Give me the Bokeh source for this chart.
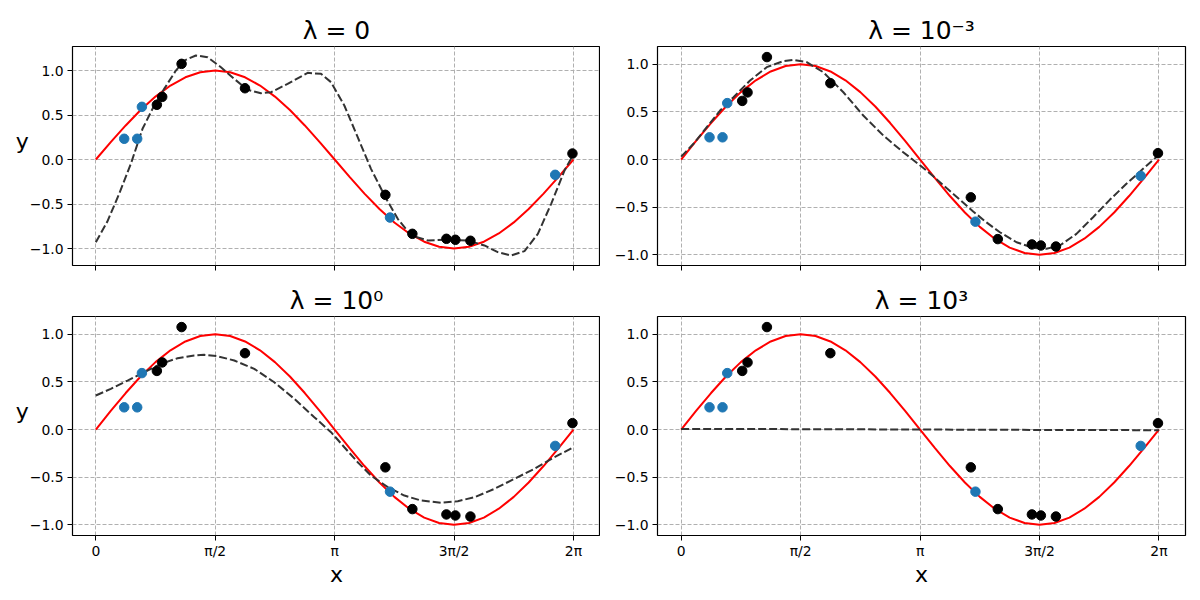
import math
from bokeh.plotting import figure
from bokeh.layouts import gridplot
from bokeh.models import FixedTicker, Range1d, CustomLabelingPolicy
from bokeh.embed import file_html
from bokeh.resources import INLINE

# ---------------- data ----------------
titles = ["λ = 0", "λ = 10⁻³", "λ = 10⁰", "λ = 10³"]

x_tick_values = [0.0, math.pi / 2, math.pi, 3 * math.pi / 2, 2 * math.pi]
x_tick_labels = ["0", "π/2", "π", "3π/2", "2π"]
y_tick_values = [-1.0, -0.5, 0.0, 0.5, 1.0]
y_tick_labels = ["−1.0", "−0.5", "0.0", "0.5", "1.0"]

train_x = [0.803, 0.873, 1.128, 1.962, 3.809, 4.164, 4.612, 4.730, 4.928, 6.270]
train_y = [0.615, 0.704, 1.075, 0.801, -0.397, -0.835, -0.891, -0.902, -0.913, 0.067]

test_x = [0.373, 0.544, 0.606, 3.870, 6.043]
test_y = [0.233, 0.233, 0.592, -0.652, -0.172]

true_x = [0.000, 0.196, 0.393, 0.589, 0.785, 0.982, 1.178, 1.374, 1.571, 1.767,
          1.963, 2.160, 2.356, 2.553, 2.749, 2.945, 3.142, 3.338, 3.534, 3.731,
          3.927, 4.123, 4.320, 4.516, 4.712, 4.909, 5.105, 5.301, 5.498, 5.694,
          5.890, 6.087, 6.283]
true_y = [0.000, 0.195, 0.383, 0.556, 0.707, 0.831, 0.924, 0.981, 1.000, 0.981,
          0.924, 0.831, 0.707, 0.556, 0.383, 0.195, 0.000, -0.195, -0.383, -0.556,
          -0.707, -0.831, -0.924, -0.981, -1.000, -0.981, -0.924, -0.831, -0.707, -0.556,
          -0.383, -0.195, 0.000]

fit0_x = [0.0, 0.15, 0.307, 0.461, 0.614, 0.768, 0.899, 1.053, 1.163, 1.316, 1.47,
          1.646, 1.821, 1.997, 2.172, 2.304, 2.523, 2.787, 2.962, 3.094, 3.269,
          3.445, 3.620, 3.809, 3.972, 4.147, 4.367, 4.585, 4.893, 5.112, 5.288,
          5.464, 5.639, 5.815, 5.990, 6.165, 6.283]
fit0_y = [-0.929, -0.70, -0.386, -0.048, 0.345, 0.607, 0.794, 1.0, 1.112, 1.169, 1.15,
          1.037, 0.906, 0.783, 0.745, 0.756, 0.850, 0.974, 0.963, 0.869, 0.607,
          0.251, -0.105, -0.423, -0.667, -0.854, -0.910, -0.902, -0.91, -0.966, -1.041,
          -1.079, -1.030, -0.835, -0.498, -0.124, 0.06]

fit3_x = [0.0, 0.162, 0.337, 0.512, 0.688, 0.906, 1.125, 1.344, 1.476, 1.651, 1.870,
          2.133, 2.395, 2.658, 2.920, 3.140, 3.315, 3.490, 3.665, 3.840, 4.015,
          4.191, 4.410, 4.629, 4.804, 4.979, 5.198, 5.417, 5.636, 5.855, 6.074, 6.283]
fit3_y = [0.03, 0.165, 0.339, 0.514, 0.654, 0.829, 0.969, 1.032, 1.046, 1.021, 0.916,
          0.706, 0.462, 0.252, 0.077, -0.06, -0.175, -0.30, -0.42, -0.545, -0.66,
          -0.763, -0.868, -0.927, -0.937, -0.902, -0.780, -0.605, -0.423, -0.255, -0.098, 0.05]

fit1_x = [0.0, 0.197, 0.417, 0.636, 0.856, 1.075, 1.294, 1.426, 1.602, 1.821, 2.084,
          2.347, 2.611, 2.874, 3.094, 3.269, 3.445, 3.620, 3.840, 4.059, 4.279,
          4.542, 4.762, 4.981, 5.244, 5.507, 5.770, 6.034, 6.283]
fit1_y = [0.357, 0.427, 0.514, 0.601, 0.689, 0.748, 0.776, 0.784, 0.769, 0.724, 0.637,
          0.496, 0.322, 0.129, -0.028, -0.186, -0.343, -0.483, -0.605, -0.693, -0.745,
          -0.769, -0.752, -0.710, -0.622, -0.517, -0.412, -0.290, -0.186]

fitk_x = [0.0, 1.571, 3.142, 4.712, 6.283]
fitk_y = [0.006, 0.004, 0.0, -0.004, -0.007]

fits_x = [fit0_x, fit3_x, fit1_x, fitk_x]
fits_y = [fit0_y, fit3_y, fit1_y, fitk_y]

y_label_text = "y"
x_label_text = "x"

# ---------------- styling / layout ----------------
FONT = "DejaVu Sans"
RED = "#ff0000"
BLUE = "#1f77b4"

panels = [
    # (width, height, left, right, top, bottom, x_range, y_range, show_x_labels, show_y_label)
    (600, 277, 72, 0, 46, 12, (-0.307, 6.639), (-1.191, 1.270), False, True),
    (600, 277, 57, 15, 46, 12, (-0.311, 6.632), (-1.112, 1.186), False, False),
    (600, 323, 72, 0, 39, 65, (-0.307, 6.639), (-1.112, 1.186), True, True),
    (600, 323, 57, 15, 39, 65, (-0.311, 6.632), (-1.112, 1.186), True, False),
]

figs = []
for i, (w, h, bl, br, bt, bb, xr, yr, show_x, show_y) in enumerate(panels):
    p = figure(width=w, height=h, output_backend="svg", toolbar_location=None,
               x_range=Range1d(*xr), y_range=Range1d(*yr),
               min_border_left=bl, min_border_right=br,
               min_border_top=bt, min_border_bottom=bb)
    p.background_fill_color = "white"
    p.border_fill_color = "white"
    p.outline_line_color = "black"
    p.outline_line_width = 1.2

    p.title.text = titles[i]
    p.title.align = "center"
    p.title.text_font = FONT
    p.title.text_font_size = "25px"
    p.title.text_font_style = "normal"
    p.title.text_color = "black"
    p.title.standoff = 4

    # grid
    for g in (p.xgrid, p.ygrid):
        g.grid_line_color = "#b0b0b0"
        g.grid_line_dash = "4 2"
        g.grid_line_width = 1
    p.xgrid.ticker = FixedTicker(ticks=x_tick_values)
    p.ygrid.ticker = FixedTicker(ticks=y_tick_values)

    # axes
    for ax in (p.xaxis[0], p.yaxis[0]):
        ax.axis_line_color = None
        ax.major_tick_line_color = "black"
        ax.major_tick_line_width = 1
        ax.major_tick_out = 5
        ax.major_tick_in = 0
        ax.minor_tick_line_color = None
        ax.major_label_text_font = FONT
        ax.major_label_text_font_size = "13.9px"
        ax.major_label_text_color = "black"
        ax.major_label_standoff = 4
        ax.axis_label_text_font = FONT
        ax.axis_label_text_font_size = "22px"
        ax.axis_label_text_font_style = "normal"
        ax.axis_label_text_color = "black"

    xa = p.xaxis[0]
    xa.ticker = FixedTicker(ticks=x_tick_values)
    xa.major_label_overrides = {v: t for v, t in zip(x_tick_values, x_tick_labels)}
    if show_x:
        xa.axis_label = x_label_text
        xa.major_label_standoff = 2
        xa.axis_label_standoff = 0
    else:
        # shared x: tick marks only, no tick labels
        xa.major_label_policy = CustomLabelingPolicy(code="return []")
        xa.major_label_text_font_size = "0px"
        xa.major_label_standoff = 0

    ya = p.yaxis[0]
    ya.ticker = FixedTicker(ticks=y_tick_values)
    ya.major_label_overrides = {v: t for v, t in zip(y_tick_values, y_tick_labels)}
    if show_y:
        # horizontal label, raised a little above the frame centre (second empty line)
        ya.axis_label = y_label_text + "\n"
        ya.axis_label_standoff = -2
        ya.axis_label_orientation = "horizontal"

    # glyphs
    p.line(true_x, true_y, line_color=RED, line_width=2)
    p.line(fits_x[i], fits_y[i], line_color="#333333", line_width=2, line_dash="8 3")
    p.scatter(test_x, test_y, size=9.5, fill_color=BLUE, line_color=BLUE)
    p.scatter(train_x, train_y, size=9.5, fill_color="black", line_color="black")
    figs.append(p)

grid = gridplot([[figs[0], figs[1]], [figs[2], figs[3]]], toolbar_location=None)

open("out.html", "w").write(file_html(grid, INLINE))
